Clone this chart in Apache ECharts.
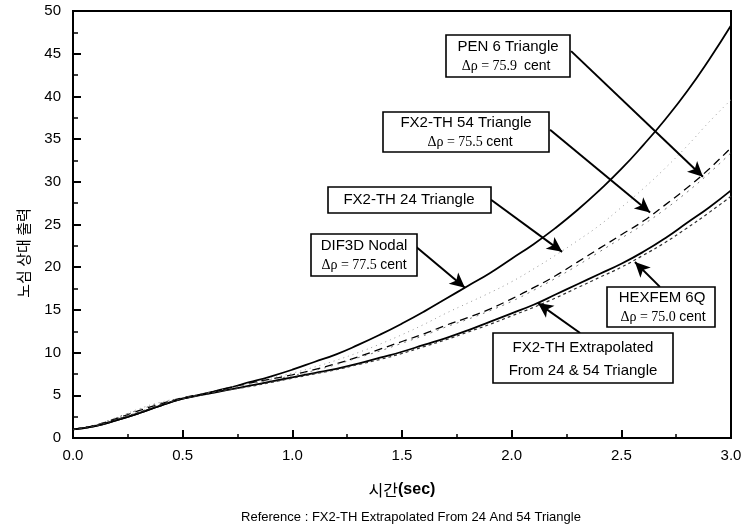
<!DOCTYPE html>
<html>
<head>
<meta charset="utf-8">
<script src="https://cdn.jsdelivr.net/npm/echarts@6/dist/echarts.min.js"></script>
<style>html,body{margin:0;padding:0;background:#fff}#c{width:748px;height:528px}</style>
</head>
<body>
<div id="c"></div>
<script>
// ---- data ----
var time = [0,0.1,0.2,0.3,0.4,0.5,0.6,0.7,0.8,0.9,1.0,1.1,1.2,1.3,1.4,1.5,1.6,1.7,1.8,1.9,2.0,2.1,2.2,2.3,2.4,2.5,2.6,2.7,2.8,2.9,3.0];
var dif3dNodal = [1.0,1.4,2.1,2.9,3.8,4.6,5.2,5.8,6.5,7.2,8.0,8.9,9.8,10.9,12.1,13.4,14.8,16.3,17.8,19.3,21.0,22.7,24.6,26.7,29.0,31.5,34.3,37.3,40.6,44.3,48.3];
var pen6Triangle = [1.0,1.5,2.3,3.2,4.0,4.7,5.2,5.8,6.4,6.9,7.4,8.0,8.7,9.5,10.4,11.3,12.2,13.2,14.1,15.1,16.3,17.6,19.0,20.6,22.2,23.8,25.4,27.3,29.3,31.5,34.0];
var fx2th54 = [1.0,1.5,2.4,3.3,4.1,4.7,5.2,5.7,6.3,6.8,7.3,7.9,8.6,9.4,10.2,11.1,12.0,13.0,13.9,14.9,16.0,17.3,18.7,20.2,21.8,23.4,25.0,26.8,28.8,31.0,33.4];
var fx2th24 = [1.0,1.5,2.4,3.4,4.2,4.7,5.2,5.8,6.4,7.0,7.6,8.3,9.1,10.0,11.0,12.1,13.3,14.6,15.8,17.0,18.3,19.8,21.4,23.1,24.9,27.0,29.2,31.6,34.2,37.0,39.6];
var hexfem6Q = [1.0,1.4,2.1,2.9,3.8,4.6,5.1,5.6,6.1,6.6,7.1,7.6,8.1,8.7,9.4,10.1,10.9,11.7,12.6,13.6,14.6,15.6,16.8,18.0,19.2,20.4,21.8,23.4,25.2,27.0,29.0];
var fx2thExtrap = [1.0,1.4,2.2,3.0,3.9,4.6,5.1,5.6,6.0,6.5,7.0,7.5,8.0,8.6,9.2,9.9,10.7,11.5,12.4,13.3,14.3,15.3,16.4,17.6,18.8,20.0,21.4,22.9,24.6,26.4,28.3];

// annotation arrows: [tailX, tailY, tipX, tipY] in data units
var arrowPen6 = [2.271, 45.3, 2.872, 30.6];
var arrow54 = [2.175, 36.1, 2.631, 26.4];
var arrow24 = [1.906, 27.9, 2.230, 21.8];
var arrowDif = [1.564, 22.4, 1.787, 17.6];
var arrowHex = [2.676, 17.7, 2.562, 20.6];
var arrowExt = [2.312, 12.3, 2.120, 15.8];

var xTicks = [0, 0.5, 1.0, 1.5, 2.0, 2.5, 3.0];
var yTicks = [0, 5, 10, 15, 20, 25, 30, 35, 40, 45, 50];

function pairs(ys){ return time.map(function(t,i){ return [t, ys[i]]; }); }
function arrowLine(a){ return [{coord:[a[0],a[1]]},{coord:[a[2],a[3]]}]; }

var chart = echarts.init(document.getElementById('c'));
var F = 'Liberation Sans, Arial, sans-serif';
var S = 'Liberation Serif, Times New Roman, serif';
var K = 'Noto Sans CJK KR, sans-serif';

function box(x,y,w,h){
  return {type:'rect', shape:{x:x,y:y,width:w,height:h}, style:{fill:'#fff', stroke:'#000', lineWidth:1.6}, z:100};
}
function txt(x,y,t,size,font,bold){
  return {type:'text', x:x, y:y, z:101, style:{text:t, fill:'#000', font:(bold?'bold ':'')+size+'px '+font, align:'center', verticalAlign:'middle'}};
}
function rich(x,y,val){
  return {type:'text', x:x, y:y, z:101, style:{
    text:'{s|\u0394\u03c1 = '+val+'} {a|cent}', align:'center', verticalAlign:'middle',
    rich:{s:{font:'14px '+S, fill:'#000'}, a:{font:'14px '+F, fill:'#000'}}
  }};
}

var option = {
  animation:false,
  backgroundColor:'#fff',
  grid:{left:73, right:17, top:11, bottom:90, show:true, borderColor:'#000', borderWidth:2, backgroundColor:'transparent'},
  xAxis:{
    type:'value', min:0, max:3, interval:0.5,
    name:'{a|시간}{b|(sec)}', nameLocation:'middle', nameGap:44,
    nameTextStyle:{color:'#000', rich:{a:{fontSize:16, fontFamily:K, color:'#000'}, b:{fontSize:16, fontFamily:F, fontWeight:'bold', color:'#000'}}},
    axisLine:{lineStyle:{color:'#000', width:2}},
    axisTick:{inside:true, length:8, lineStyle:{color:'#000', width:2}},
    minorTick:{show:true, splitNumber:2, length:4, lineStyle:{color:'#000', width:1.5}},
    splitLine:{show:false},
    axisLabel:{color:'#000', fontSize:15, fontFamily:F, margin:10, formatter:function(v){return v.toFixed(1);}}
  },
  yAxis:{
    type:'value', min:0, max:50, interval:5,
    axisLine:{lineStyle:{color:'#000', width:2}},
    axisTick:{inside:true, length:8, lineStyle:{color:'#000', width:2}},
    minorTick:{show:true, splitNumber:2, length:5, lineStyle:{color:'#000', width:1.5}},
    splitLine:{show:false},
    axisLabel:{color:'#000', fontSize:15, fontFamily:F, margin:12}
  },
  series:[
    {name:'DIF3D Nodal', type:'line', smooth:true, showSymbol:false, data:pairs(dif3dNodal), lineStyle:{color:'#000', width:1.8}},
    {name:'FX2-TH 24 Triangle', type:'line', smooth:true, showSymbol:false, data:pairs(fx2th24), lineStyle:{color:'#999', width:1, type:[1,4]}},
    {name:'PEN 6 Triangle', type:'line', smooth:true, showSymbol:false, data:pairs(pen6Triangle), lineStyle:{color:'#000', width:1.3, type:[8,5]},
      markLine:{silent:true, symbol:['none','arrow'], symbolSize:[11,15], label:{show:false},
        lineStyle:{color:'#000', width:2, type:'solid'},
        data:[arrowLine(arrowPen6), arrowLine(arrow54), arrowLine(arrow24), arrowLine(arrowDif), arrowLine(arrowHex), arrowLine(arrowExt)]}},
    {name:'FX2-TH 54 Triangle', type:'line', smooth:true, showSymbol:false, data:pairs(fx2th54), lineStyle:{color:'#777', width:1, type:[2,5]}},
    {name:'HEXFEM 6Q', type:'line', smooth:true, showSymbol:false, data:pairs(hexfem6Q), lineStyle:{color:'#000', width:1.8}},
    {name:'FX2-TH Extrapolated', type:'line', smooth:true, showSymbol:false, data:pairs(fx2thExtrap), lineStyle:{color:'#333', width:1.2, type:[3,3]}}
  ],
  graphic:[
    {type:'text', x:23, y:253, rotation:Math.PI/2, z:101, style:{text:'노심 상대 출력', fill:'#000', font:'15px '+K, align:'center', verticalAlign:'middle'}},
    box(446,35,124,42), txt(508,47,'PEN 6 Triangle',15,F), rich(506,66,'75.9 '),
    box(383,112,166,40), txt(466,123,'FX2-TH 54 Triangle',15,F), rich(470,142,'75.5'),
    box(328,187,163,26), txt(409,200,'FX2-TH 24 Triangle',15,F),
    box(311,234,106,42), txt(364,246,'DIF3D Nodal',15,F), rich(364,265,'77.5'),
    box(607,287,108,40), txt(662,298,'HEXFEM 6Q',15,F), rich(663,317,'75.0'),
    box(493,333,180,50), txt(583,348,'FX2-TH Extrapolated',15,F), txt(583,371,'From 24 & 54 Triangle',15,F),
    txt(411,517,'Reference : FX2-TH Extrapolated From 24 And 54 Triangle',13,F)
  ]
};
chart.setOption(option);
</script>
</body>
</html>
